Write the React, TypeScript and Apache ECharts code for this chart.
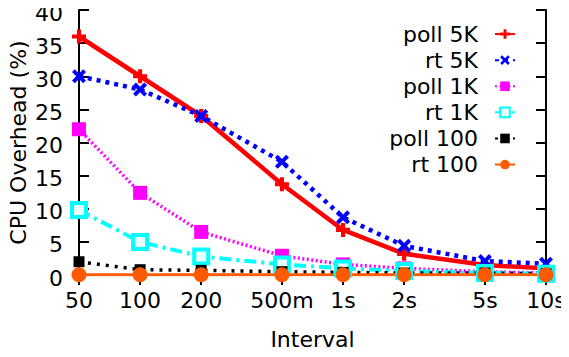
import React, { useEffect, useRef } from "react";
import * as echarts from "echarts";

const intervalsMs = [50, 100, 200, 500, 1000, 2000, 5000, 10000];
const tickLabels = ["50", "100", "200", "500m", "1s", "2s", "5s", "10s"];
const seriesNames = ["poll 5K", "rt 5K", "poll 1K", "rt 1K", "poll 100", "rt 100"];
const poll5K = [36, 30, 24, 13.7, 6.8, 3.2, 1.5, 1.0];
const rt5K = [30, 28, 24, 17.1, 8.7, 4.4, 2.1, 1.7];
const poll1K = [22, 12.4, 6.5, 2.9, 1.6, 1.0, 0.5, 0.3];
const rt1K = [9.8, 5.0, 2.8, 1.6, 1.0, 0.6, 0.3, 0.2];
const poll100 = [2.0, 0.8, 0.7, 0.5, 0.4, 0.3, 0.3, 0.2];
const rt100 = [0.05, 0.05, 0.05, 0.05, 0.05, 0.05, 0.05, 0.05];

const FONT = "DejaVu Sans";
const FS = 22;

const PLUS = "path://M3.5,0H6.5V3.5H10V6.5H6.5V10H3.5V6.5H0V3.5H3.5Z";
const CROSS = "path://M0,2L2,0L5,3L8,0L10,2L7,5L10,8L8,10L5,7L2,10L0,8L3,5Z";

export default function App() {
  const ref = useRef<HTMLDivElement>(null);
  useEffect(() => {
    const chart = echarts.init(ref.current!, undefined, { renderer: "svg" });
    const pair = (vals: number[]) => intervalsMs.map((x, i) => [x, vals[i]]);
    const labelFor = (v: number) => {
      const i = intervalsMs.findIndex((x) => Math.abs(x - v) < 1e-6 * x);
      return i >= 0 ? tickLabels[i] : "";
    };
    const mk = (
      name: string,
      vals: number[],
      color: string,
      width: number,
      type: any,
      symbol: string,
      size: number,
      itemStyle: any = {}
    ) => ({
      name,
      type: "line",
      data: pair(vals),
      symbol,
      symbolSize: size,
      showAllSymbol: true,
      lineStyle: { color, width, type, cap: "butt" },
      itemStyle: { color, ...itemStyle },
      emphasis: { disabled: true },
    });
    const axisCommonX = {
      type: "log",
      logBase: 10,
      min: 50,
      max: 10000,
      splitLine: { show: false },
      minorTick: { show: false },
      nameMoveOverlap: false,
      axisLine: { show: true, lineStyle: { color: "#000", width: 2 } },
    };
    const axisCommonY = {
      type: "value",
      min: 0,
      max: 40,
      interval: 5,
      splitLine: { show: false },
      nameMoveOverlap: false,
      axisLine: { show: true, lineStyle: { color: "#000", width: 2 } },
      axisTick: { show: true, inside: true, length: 10, lineStyle: { color: "#000", width: 2 } },
    };
    chart.setOption({
      animation: false,
      backgroundColor: "#fff",
      textStyle: { fontFamily: FONT },
      grid: { left: 79, right: 23, top: 10, bottom: 82, containLabel: false, outerBoundsMode: "none" },
      legend: {
        orient: "vertical",
        right: 48,
        top: 16,
        align: "right",
        itemWidth: 20,
        itemHeight: 12,
        itemGap: 0,
        selectedMode: false,
        data: seriesNames,
        textStyle: {
          fontFamily: FONT,
          fontSize: FS,
          color: "#000",
          padding: [0, 12, 0, 0],
          lineHeight: 26.1,
        },
      },
      xAxis: [
        {
          ...axisCommonX,
          position: "bottom",
          name: "Interval",
          nameLocation: "middle",
          nameGap: 64,
          nameTextStyle: { fontFamily: FONT, fontSize: FS, color: "#000", verticalAlign: "middle" },
          axisTick: {
            show: true,
            inside: true,
            length: 10,
            customValues: intervalsMs,
            lineStyle: { color: "#000", width: 2 },
          },
          axisLabel: {
            customValues: intervalsMs,
            formatter: (v: number) => labelFor(v),
            fontFamily: FONT,
            fontSize: FS,
            color: "#000",
            margin: 14,
          },
        },
        {
          ...axisCommonX,
          position: "top",
          axisTick: {
            show: true,
            inside: true,
            length: 10,
            customValues: intervalsMs,
            lineStyle: { color: "#000", width: 2 },
          },
          axisLabel: { show: false },
        },
      ],
      yAxis: [
        {
          ...axisCommonY,
          position: "left",
          name: "CPU Overhead (%)",
          nameLocation: "middle",
          nameGap: 61,
          nameTextStyle: { fontFamily: FONT, fontSize: FS, color: "#000", verticalAlign: "middle" },
          axisLabel: {
            fontFamily: FONT,
            fontSize: FS,
            color: "#000",
            margin: 16,
            formatter: (v: number) => `{t|${v}}`,
            rich: {
              t: {
                fontFamily: FONT,
                fontSize: FS,
                color: "#000",
                lineHeight: 22,
                padding: [6, 0, 0, 0],
              },
            },
          },
        },
        {
          ...axisCommonY,
          position: "right",
          axisLabel: { show: false },
        },
      ],
      series: [
        mk(seriesNames[0], poll5K, "#ff0000", 4.5, "solid", PLUS, 14),
        mk(seriesNames[1], rt5K, "#0000ff", 4.5, [4, 5], CROSS, 14),
        mk(seriesNames[2], poll1K, "#ff00ff", 3.5, [2, 2.5], "rect", 14),
        mk(seriesNames[3], rt1K, "#00ffff", 4, [12, 5, 3, 5], "rect", 14, {
          color: "#e8ffff",
          borderColor: "#00ffff",
          borderWidth: 4,
        }),
        mk(seriesNames[4], poll100, "#000000", 3.5, [3, 6], "rect", 11),
        mk(seriesNames[5], rt100, "#ff5a00", 3, "solid", "circle", 15),
      ],
    });
    return () => chart.dispose();
  }, []);
  return <div ref={ref} style={{ width: 569, height: 357, margin: -8 }} />;
}
